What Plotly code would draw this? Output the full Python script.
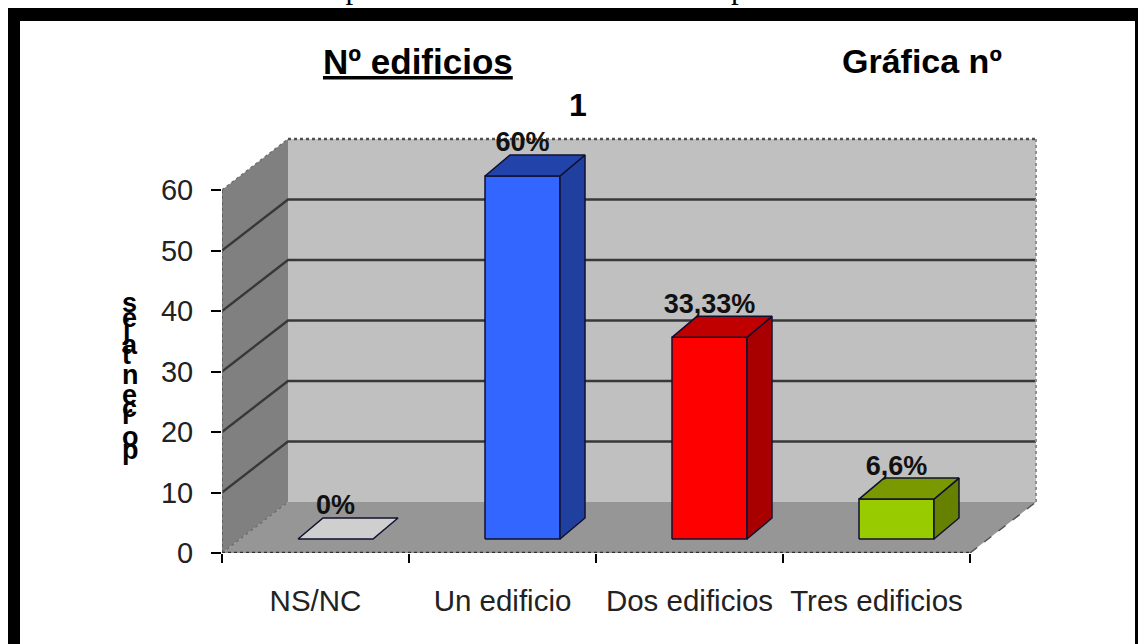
import plotly.graph_objects as go

categories = ["NS/NC", "Un edificio", "Dos edificios", "Tres edificios"]
values = [0, 60, 33.33, 6.6]
value_labels = ["0%", "60%", "33,33%", "6,6%"]
y_ticks = [0, 10, 20, 30, 40, 50, 60]
grid_values = [10, 20, 30, 40, 50]
front_colors = ["#cfcfcf", "#3366ff", "#ff0000", "#99cc00"]
top_colors = ["#cfcfcf", "#2244aa", "#c00000", "#7a9900"]
side_colors = ["#cfcfcf", "#2040a0", "#a80000", "#668000"]
axis_letters = list("sejatnecrop")
letter_rows = [303, 318, 330, 345, 355, 375, 395, 408, 415, 437, 450]

W, H = 1138, 644
L, R, T, B = 222, 1040, 130, 553
px_x, px_y = 187.0, 6.05
DX, DY = 66 / px_x, 51 / px_y
bar_w = 75 / px_x
off_x, off_y = 20 / px_x, 14 / px_y
side_x, side_y = 25 / px_x, 21 / px_y
n = len(categories)
X_MAX = (R - L) / px_x
Y_MAX = (B - T) / px_y


def fx(p):
    return (p - L) / (R - L)


def fy(p):
    return (B - p) / (B - T)


fig = go.Figure()


def poly(xs, ys, fill, line=None, width=1.5):
    fig.add_trace(go.Scatter(
        x=xs + xs[:1], y=ys + ys[:1], mode="lines", fill="toself", fillcolor=fill,
        line=dict(color=line or fill, width=width if line else 0),
        hoverinfo="skip", showlegend=False, cliponaxis=False))


def seg(xs, ys, color, width=2, dash="solid"):
    fig.add_trace(go.Scatter(
        x=xs, y=ys, mode="lines", line=dict(color=color, width=width, dash=dash),
        hoverinfo="skip", showlegend=False, cliponaxis=False))


top = y_ticks[-1]
poly([0, n, n + DX, DX], [0, 0, DY, DY], "#969696")
poly([0, DX, DX, 0], [0, DY, top + DY, top], "#808080")
poly([DX, n + DX, n + DX, DX], [DY, DY, top + DY, top + DY], "#c0c0c0")

for v in grid_values:
    seg([0, DX, n + DX], [v, v + DY, v + DY], "#383838", 2.5)

seg([0, DX], [0, DY], "#707070", 1.5, "dot")
seg([DX, n + DX], [top + DY, top + DY], "#505050", 2.5, "dot")
seg([0, DX], [top, top + DY], "#707070", 1.5, "dot")
seg([0, 0], [0, top], "#606060", 2, "dot")
seg([n + DX, n + DX], [DY, top + DY], "#909090", 2, "dot")
seg([0, n], [0, 0], "#303030", 2.5, "dot")
seg([n, n + DX], [0, DY], "#505050", 1.5, "dash")

# heavier tick marks seen on the axes
seg([-10 / px_x, 0], [0, 0], "#000000", 3.5)
for k in (1, 3):
    seg([k, k], [0, -9 / px_y], "#000000", 3)

for i, v in enumerate(values):
    c = i + 0.5 + off_x
    x0, x1 = c - bar_w / 2, c + bar_w / 2
    y0, y1 = off_y, off_y + v
    edge = "#101030"
    if v > 0:
        poly([x0, x1, x1, x0], [y0, y0, y1, y1], front_colors[i], edge)
        poly([x1, x1 + side_x, x1 + side_x, x1], [y0, y0 + side_y, y1 + side_y, y1], side_colors[i], edge)
    poly([x0, x1, x1 + side_x, x0 + side_x], [y1, y1, y1 + side_y, y1 + side_y], top_colors[i], edge)

fig.add_trace(go.Scatter(
    x=[i + 0.5 + off_x for i in range(n)],
    y=[v + off_y + side_y + 1.7 for v in values],
    mode="text", text=value_labels, textposition="middle center",
    textfont=dict(family="Liberation Sans", size=27, color="#111111", weight=700),
    hoverinfo="skip", showlegend=False, cliponaxis=False))

annotations = [
    dict(text="<b><u>Nº edificios</u></b>", x=fx(418), y=fy(61), size=35, font="Liberation Sans", color="#000"),
    dict(text="<b>Gráfica nº</b>", x=fx(922), y=fy(61), size=34, font="Liberation Sans", color="#000"),
    dict(text="<b>1</b>", x=fx(578), y=fy(105), size=32, font="Liberation Sans", color="#000"),
    dict(text="Resultados: Análisis comparativo de las instalaciones deportivas en las Facultades.",
         x=fx(545), y=fy(-13), size=31, font="Liberation Serif", color="#000"),
]
anns = [dict(xref="paper", yref="paper", text=a["text"], x=a["x"], y=a["y"], showarrow=False,
             xanchor="center", yanchor="middle",
             font=dict(family=a["font"], size=a["size"], color=a["color"])) for a in annotations]
for ch, row in zip(axis_letters, letter_rows):
    anns.append(dict(xref="paper", yref="paper", text=f"<b>{ch}</b>", x=fx(121), y=fy(row), showarrow=False,
                     xanchor="left", yanchor="middle", borderpad=0,
                     font=dict(family="Liberation Sans", size=27, color="#000")))

black = dict(type="rect", xref="paper", yref="paper", fillcolor="#000", line_width=0, layer="above")
shapes = [
    dict(black, x0=fx(8), x1=fx(W), y0=fy(8), y1=fy(21)),
    dict(black, x0=fx(8), x1=fx(20), y0=fy(8), y1=fy(H)),
    dict(black, x0=fx(1135), x1=fx(W), y0=fy(8), y1=fy(H)),
]

fig.update_layout(
    width=W, height=H, margin=dict(l=L, r=W - R, t=T, b=H - B, pad=0),
    paper_bgcolor="#ffffff", plot_bgcolor="#ffffff", showlegend=False,
    annotations=anns, shapes=shapes,
    xaxis=dict(range=[0, X_MAX], showgrid=False, zeroline=False, showline=False,
               tickmode="array", tickvals=[i + 0.5 for i in range(n)], ticktext=categories,
               ticks="", ticklabelstandoff=27,
               tickfont=dict(family="Liberation Sans", size=29.5, color="#222222"),
               minor=dict(ticks="outside", tickmode="array", tickvals=list(range(n + 1)),
                          ticklen=9, tickwidth=1.5, tickcolor="#000", showgrid=False)),
    yaxis=dict(range=[0, Y_MAX], showgrid=False, zeroline=False, showline=False,
               tickmode="array", tickvals=y_ticks, ticks="outside", ticklen=10, tickwidth=1.5,
               tickcolor="#000", ticklabelstandoff=12,
               tickfont=dict(family="Liberation Sans", size=29, color="#222222")),
)

fig.write_html("out.html", config={"displayModeBar": False},
               post_script="document.body.style.margin='0';document.body.style.overflow='hidden';")
